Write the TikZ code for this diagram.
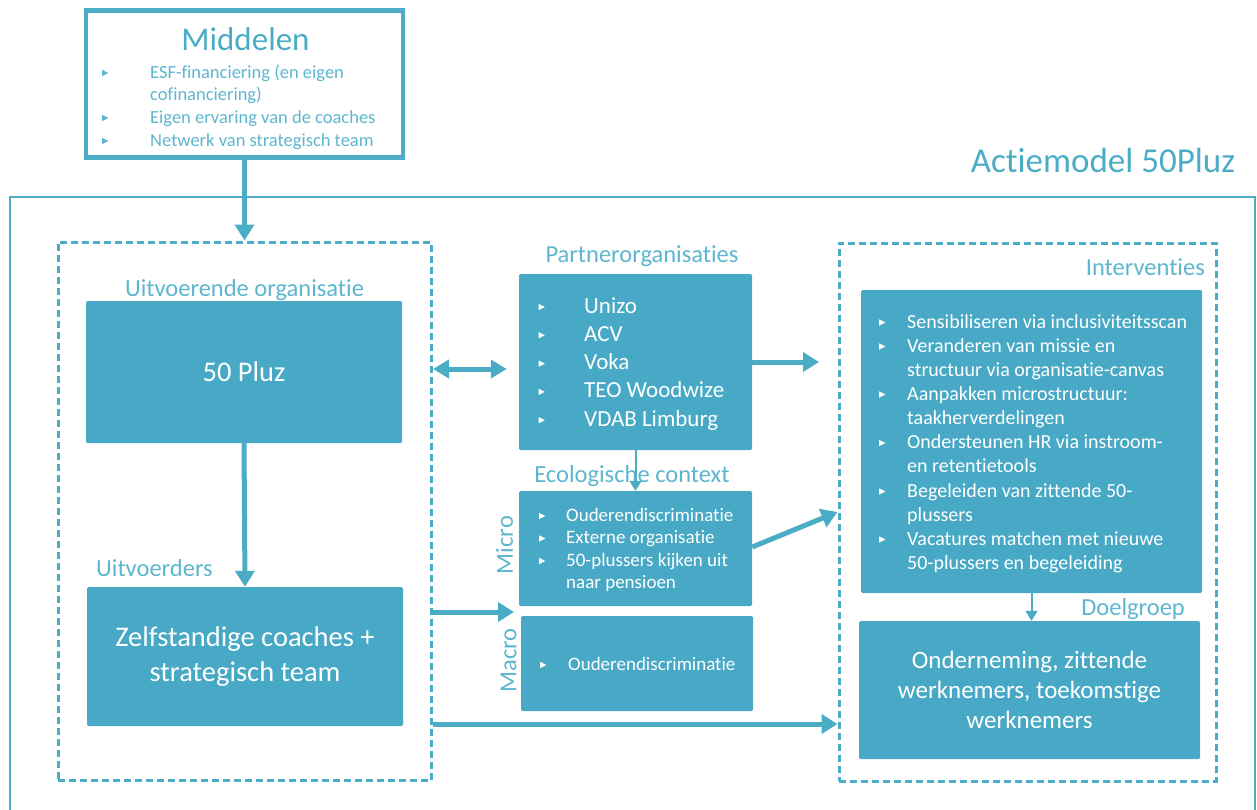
\documentclass[tikz,border=0pt]{standalone}
\usepackage{fontspec}
\setmainfont{Carlito}[Ligatures=NoCommon]
\usetikzlibrary{arrows.meta}
\definecolor{cb}{HTML}{4BACC6}
\definecolor{cfill}{HTML}{47A9C5}
\definecolor{lb}{HTML}{5DB6CF}
\newcommand\fs[2]{\fontsize{#1}{#2}\selectfont}
% list item: name, bullet x, text x, baseline y, bullet raise, text
\newcommand\litem[6]{%
  \node[anchor=base west,inner sep=0] (#1) at (#3,#4) {#6};
  \fill[shift={(#2,#4-#5)}] (-2.8,-3.1)--(-2.8,3.1)--(3.3,0)--cycle;}
\begin{document}
\begin{tikzpicture}[x=1pt,y=-1pt,
  cbox/.style={fill=cfill,inner sep=0,rounded corners=1.5pt,text=white,align=center},
  lbl/.style={text=lb,font=\fs{24.5}{28},inner sep=0},
  dbox/.style={draw=cb,line width=3pt,dash pattern=on 7pt off 4pt,inner sep=0},
  fat/.style={draw=cb,line width=5pt,-{Triangle[length=16pt,width=19pt]}},
  fatdbl/.style={draw=cb,line width=5pt,{Triangle[length=16pt,width=18pt]}-{Triangle[length=16pt,width=18pt]}},
  thinarr/.style={draw=cb,line width=2pt,-{Triangle[length=10pt,width=12pt]}}]
\useasboundingbox (0,0) rectangle (1257,809);

% outer frame
\draw[cb,line width=2pt] (10,815) -- (10,197) -- (1255,197) -- (1255,815);
\node[anchor=base,inner sep=0,text=cb,font=\fs{35}{40}] (title) at (1103,172) {Actiemodel 50Pluz};

% Middelen
\node[draw=cb,line width=4.5pt,minimum width=317,minimum height=147,inner sep=0] (mid) at (244.5,84) {};
\node[anchor=base,inner sep=0,text=cb,font=\fs{33}{38}] (midt) at (245.5,50) {Middelen};
\begin{scope}[lb,font=\fs{18.5}{22}]
\litem{m1}{105}{150}{78}{5}{ESF-financiering (en eigen}
\node[anchor=base west,inner sep=0] (m1b) at (150,100.5) {cofinanciering)};
\litem{m2}{105}{150}{123}{5}{Eigen ervaring van de coaches}
\litem{m3}{105}{150}{146}{5}{Netwerk van strategisch team}
\end{scope}

% dashed containers
\node[dbox,minimum width=373.5,minimum height=538] (ldash) at (244.75,511) {};
\node[dbox,minimum width=377,minimum height=538] (rdash) at (1027.5,512) {};

% left column
\node[lbl,anchor=base] (luo) at (244.5,296) {Uitvoerende organisatie};
\node[cbox,minimum width=316,minimum height=142,font=\fs{28.5}{34}] (pluz) at (244,372) {50 Pluz};
\node[lbl,anchor=base west] (luv) at (96,576) {Uitvoerders};
\node[cbox,minimum width=316,minimum height=139,font=\fs{28.5}{35}] (zelf) at (245,656.5) {Zelfstandige coaches +\\strategisch team};

% middle column
\node[lbl,anchor=base] (lpo) at (642,262) {Partnerorganisaties};
\node[cbox,minimum width=233,minimum height=176] (partner) at (635.5,362) {};
\begin{scope}[white,font=\fs{23}{27}]
\litem{p1}{541.5}{584}{313}{6}{Unizo}
\litem{p2}{541.5}{584}{341.3}{6}{ACV}
\litem{p3}{541.5}{584}{369.6}{6}{Voka}
\litem{p4}{541.5}{584}{397.9}{6}{TEO Woodwize}
\litem{p5}{541.5}{584}{426.2}{6}{VDAB Limburg}
\end{scope}

\node[lbl,anchor=base] (leco) at (632,482) {Ecologische context};
\node[cbox,minimum width=233,minimum height=115] (micro) at (635.5,548.5) {};
\node[lbl,rotate=90] (lmicro) at (504.5,545) {Micro};
\begin{scope}[white,font=\fs{19}{22}]
\litem{e1}{542}{566}{521}{5}{Ouderendiscriminatie}
\litem{e2}{542}{566}{543.5}{5}{Externe organisatie}
\litem{e3}{542}{566}{566}{5}{50-plussers kijken uit}
\node[anchor=base west,inner sep=0] (e3b) at (566,588.5) {naar pensioen};
\end{scope}

\node[cbox,minimum width=232,minimum height=95] (macro) at (637,663.5) {};
\node[lbl,rotate=90] (lmacro) at (508.5,660.5) {Macro};
\begin{scope}[white,font=\fs{19}{22}]
\litem{a1}{543}{568}{670}{5}{Ouderendiscriminatie}
\end{scope}

% right column
\node[lbl,anchor=base east] (lint) at (1205,275) {Interventies};
\node[cbox,minimum width=341,minimum height=303] (interv) at (1031.5,441.5) {};
\begin{scope}[white,font=\fs{20}{24}]
\litem{i1}{882}{907}{328}{5.5}{Sensibiliseren via inclusiviteitsscan}
\litem{i2}{882}{907}{352}{5.5}{Veranderen van missie en}
\node[anchor=base west,inner sep=0] (i2b) at (907,376) {structuur via organisatie-canvas};
\litem{i3}{882}{907}{400}{5.5}{Aanpakken microstructuur:}
\node[anchor=base west,inner sep=0] (i3b) at (907,424) {taakherverdelingen};
\litem{i4}{882}{907}{448.5}{5.5}{Ondersteunen HR via instroom-}
\node[anchor=base west,inner sep=0] (i4b) at (907,472.5) {en retentietools};
\litem{i5}{882}{907}{497}{5.5}{Begeleiden van zittende 50-}
\node[anchor=base west,inner sep=0] (i5b) at (907,521) {plussers};
\litem{i6}{882}{907}{545}{5.5}{Vacatures matchen met nieuwe}
\node[anchor=base west,inner sep=0] (i6b) at (907,569) {50-plussers en begeleiding};
\end{scope}

\node[lbl,anchor=base east] (ldoel) at (1185,615) {Doelgroep};
\node[cbox,minimum width=341,minimum height=138,font=\fs{25}{30}] (doel) at (1029.5,690) {Onderneming, zittende\\werknemers, toekomstige\\werknemers};

% connectors
\draw[fat] (mid.south) -- (mid.south |- ldash.north);
\draw[fat] (pluz.south) -- (zelf.north);
\draw[fatdbl,shorten >=12pt] (ldash.east |- 0,369) -- (partner.west |- 0,369);
\draw[fat,shorten >=18.5pt] (partner.east |- 0,362) -- (rdash.west |- 0,362);
\draw[thinarr] (partner.south) -- (micro.north);
\coordinate (slantEnd) at (rdash.west |- 0,512);
\draw[fat] (micro.east |- 0,547) -- (slantEnd);
\coordinate (gapEnd) at (514,612);
\draw[fat] (ldash.east |- gapEnd) -- (gapEnd);
\draw[fat] (ldash.east |- 0,724) -- (rdash.west |- 0,724);
\draw[thinarr] (interv.south) -- (interv.south |- doel.north);
\end{tikzpicture}
\end{document}
